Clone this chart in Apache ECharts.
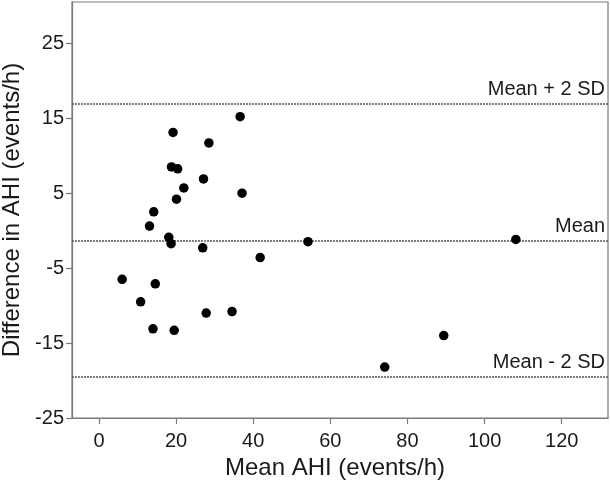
<!DOCTYPE html>
<html>
<head>
<meta charset="utf-8">
<script src="https://cdn.jsdelivr.net/npm/echarts@6/dist/echarts.min.js"></script>
<style>
html,body{margin:0;padding:0;background:#fff;}
#chart{width:610px;height:491px;}
</style>
</head>
<body>
<div id="chart"></div>
<script>
// Bland-Altman data: mean AHI (x) vs difference in AHI (y)
const meanAHI = [36.6, 19.2, 28.5, 18.8, 20.4, 27.1, 22.0, 37.1, 20.1, 14.2, 13.1, 18.1, 18.7, 26.9, 41.8, 6.0, 14.6, 10.8, 27.8, 34.5, 14.0, 19.5, 54.2, 108.1, 74.1, 89.4];
const diffAHI = [15.2, 13.1, 11.7, 8.5, 8.25, 6.9, 5.7, 5.0, 4.2, 2.5, 0.6, -0.9, -1.75, -2.3, -3.6, -6.5, -7.1, -9.5, -11.0, -10.8, -13.1, -13.3, -1.48, -1.17, -18.2, -14.0];
const refValues = [16.9, -1.35, -19.5];
const refLabels = ["Mean + 2 SD", "Mean", "Mean - 2 SD"];
const xTicks = [0, 20, 40, 60, 80, 100, 120];
const yTicks = [-25, -15, -5, 5, 15, 25];

const points = meanAHI.map((x, i) => [x, diffAHI[i]]);
const FONT = 'Liberation Sans, Arial, sans-serif';
const AXIS_COLOR = '#7a7a7a';

const chart = echarts.init(document.getElementById('chart'));
chart.setOption({
  animation: false,
  backgroundColor: '#fff',
  grid: { left: 72, right: 2, top: 2, bottom: 73, containLabel: false, outerBoundsMode: 'none', show: true, borderColor: AXIS_COLOR, borderWidth: 1.2, backgroundColor: 'transparent' },
  xAxis: {
    type: 'value', min: -7, max: 132,
    name: 'Mean AHI (events/h)', nameLocation: 'middle', nameGap: 36,
    nameTextStyle: { fontFamily: FONT, fontSize: 24, color: '#1a1a1a', padding: [0, 10, 0, 0] },
    axisLine: { show: true, onZero: false, lineStyle: { color: AXIS_COLOR, width: 1.2 } },
    axisTick: { show: true, length: 6, customValues: xTicks, lineStyle: { color: AXIS_COLOR, width: 1.2 } },
    axisLabel: { customValues: xTicks, fontFamily: FONT, fontSize: 20, color: '#1a1a1a', margin: 13 },
    splitLine: { show: false }
  },
  yAxis: {
    type: 'value', min: -25, max: 30.5,
    name: 'Difference in AHI (events/h)', nameLocation: 'middle', nameGap: 48,
    nameTextStyle: { fontFamily: FONT, fontSize: 24, color: '#1a1a1a' },
    axisLine: { show: true, onZero: false, lineStyle: { color: AXIS_COLOR, width: 1.2 } },
    axisTick: { show: true, length: 6, customValues: yTicks, lineStyle: { color: AXIS_COLOR, width: 1.2 } },
    axisLabel: { customValues: yTicks, fontFamily: FONT, fontSize: 20, color: '#1a1a1a', margin: 8 },
    splitLine: { show: false }
  },
  series: [{
    type: 'scatter',
    data: points,
    symbol: 'circle',
    symbolSize: 9.5,
    itemStyle: { color: '#000', opacity: 1 },
    z: 5,
    markLine: {
      silent: true,
      symbol: 'none',
      animation: false,
      data: refValues.map((v, i) => ({
        yAxis: v,
        label: { formatter: refLabels[i] }
      })),
      lineStyle: { color: '#555', width: 1.5, type: [2, 1] },
      label: {
        show: true, position: 'insideEndTop', distance: [3, 4],
        fontFamily: FONT, fontSize: 20, color: '#1a1a1a'
      },
      z: 3
    }
  }]
});
</script>
</body>
</html>
